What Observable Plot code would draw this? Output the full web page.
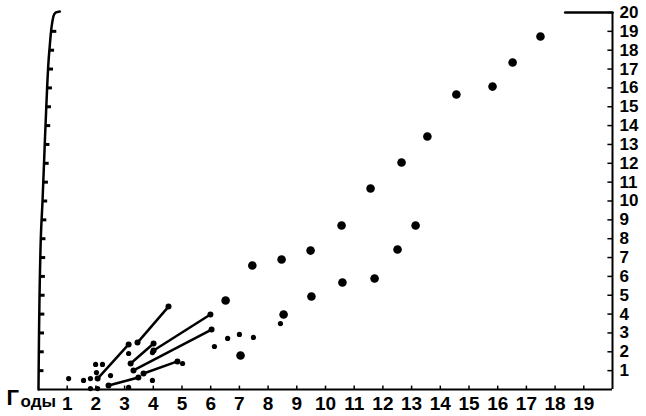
<!DOCTYPE html>
<html><head><meta charset="utf-8">
<script src="https://cdn.jsdelivr.net/npm/d3@7"></script>
<script src="https://cdn.jsdelivr.net/npm/@observablehq/plot@0.6"></script>
<style>body{margin:0;background:#fff}</style>
</head><body><div id="chart"></div>
<script>
// tick labels
const xTickLabels = [1,2,3,4,5,6,7,8,9,10,11,12,13,14,15,16,17,18,19];
const yTickLabels = [1,2,3,4,5,6,7,8,9,10,11,12,13,14,15,16,17,18,19,20];
const axisTitle = ["Г", "оды"];

// upper series of large dots
const upperX = [6.52, 7.45, 8.47, 9.48, 10.56, 11.57, 12.65, 13.55, 14.56, 15.82, 16.52, 17.49];
const upperY = [4.72, 6.58, 6.90, 7.37, 8.70, 10.66, 12.04, 13.42, 15.65, 16.07, 17.35, 18.73];

// lower series of large dots
const lowerX = [7.04, 8.54, 9.51, 10.59, 11.71, 12.51, 13.14];
const lowerY = [1.80, 3.98, 4.93, 5.68, 5.89, 7.43, 8.70];

// small scattered dots
const smallX = [1.05, 1.57, 1.81, 1.81, 2.06, 1.99, 2.23, 2.02, 2.51, 3.14, 3.97, 3.97, 3.14, 5.02, 6.13, 6.59, 7.00, 7.49, 8.43];
const smallY = [0.58, 0.48, 0.58, 0.05, 0.05, 1.33, 1.33, 0.90, 0.74, 1.91, 1.96, 0.48, 0.11, 1.38, 2.28, 2.71, 2.92, 2.76, 3.50];

// connected segments
const segX1 = [2.06, 3.45, 3.21, 4.01, 3.31, 3.66, 2.44];
const segY1 = [0.58, 2.49, 1.38, 2.07, 1.01, 0.85, 0.21];
const segX2 = [3.14, 4.53, 4.01, 5.99, 6.03, 4.84, 3.48];
const segY2 = [2.39, 4.40, 2.44, 3.98, 3.18, 1.49, 0.64];

// slanted left border as scanned
const leftEdgeX = [0.0, 0.08, 0.14, 0.21, 0.28, 0.38, 0.52, 0.6, 0.74];
const leftEdgeY = [0, 8.0, 10.0, 12.7, 15.3, 18.0, 19.8, 20.0, 20.05];

// short top border stub at right
const topStubX = [18.35, 20];
const topStubY = [20, 20];

const upper = upperX.map((x, i) => ({x, y: upperY[i]}));
const lower = lowerX.map((x, i) => ({x, y: lowerY[i]}));
const small = smallX.map((x, i) => ({x, y: smallY[i]}));
const segs = segX1.map((x1, i) => ({x1, y1: segY1[i], x2: segX2[i], y2: segY2[i]}));
const segEnds = segs.flatMap(s => [{x: s.x1, y: s.y1}, {x: s.x2, y: s.y2}]);
const leftEdge = leftEdgeX.map((x, i) => ({x, y: leftEdgeY[i]}));
const topStub = topStubX.map((x, i) => ({x, y: topStubY[i]}));
const edgeAt = y => {
  for (let i = 1; i < leftEdge.length; i++) {
    if (y <= leftEdge[i].y) {
      const a = leftEdge[i-1], b = leftEdge[i];
      return a.x + (b.x - a.x) * (y - a.y) / (b.y - a.y);
    }
  }
  return leftEdge[leftEdge.length-1].x;
};
const leftTicks = yTickLabels.filter(v => v < 20).map(v => ({y: v, x1: edgeAt(v), x2: edgeAt(v) + 0.18}));

const font = "Liberation Sans, Arial, sans-serif";

const chart = Plot.plot({
  width: 646,
  height: 416,
  marginLeft: 38,
  marginRight: 34,
  marginTop: 12,
  marginBottom: 27,
  x: {domain: [0, 20], axis: null},
  y: {domain: [0, 20], axis: null},
  style: {fontFamily: font, background: "#fff", color: "#000"},
  marks: [
    Plot.ruleY([0], {stroke: "#000", strokeWidth: 2}),
    Plot.ruleX([20], {stroke: "#000", strokeWidth: 2}),
    Plot.line(topStub, {x: "x", y: "y", stroke: "#000", strokeWidth: 2.5}),
    Plot.line(leftEdge, {x: "x", y: "y", curve: "monotone-y", stroke: "#000", strokeWidth: 2.5}),
    Plot.ruleX(xTickLabels, {x: d => d, y1: 0, y2: 0.18, stroke: "#000", strokeWidth: 1.5}),
    Plot.ruleY(yTickLabels, {y: d => d, x1: 19.84, x2: 20, stroke: "#000", strokeWidth: 1.5}),
    Plot.ruleY(leftTicks, {y: "y", x1: "x1", x2: "x2", stroke: "#000", strokeWidth: 3}),
    Plot.text(xTickLabels, {x: d => d, y: 0, text: d => String(d), lineAnchor: "top", dy: 7, fontSize: 19, fontWeight: "bold", fill: "#000"}),
    Plot.text(yTickLabels, {x: 20, y: d => d, text: d => String(d), textAnchor: "start", dx: 7, fontSize: 17, fontWeight: "bold", fill: "#000"}),
    Plot.text([axisTitle[0]], {frameAnchor: "bottom-left", text: d => d, textAnchor: "start", dx: -32, dy: 15, fontSize: 22, fontWeight: "bold", fill: "#000"}),
    Plot.text([axisTitle[1]], {frameAnchor: "bottom-left", text: d => d, textAnchor: "start", dx: -18, dy: 17, fontSize: 17, fontWeight: "bold", fill: "#000"}),
    Plot.link(segs, {x1: "x1", y1: "y1", x2: "x2", y2: "y2", stroke: "#000", strokeWidth: 2.5}),
    Plot.dot(segEnds, {x: "x", y: "y", r: 3, fill: "#000"}),
    Plot.dot(small, {x: "x", y: "y", r: 2.6, fill: "#000"}),
    Plot.dot(upper, {x: "x", y: "y", r: 4.3, fill: "#000"}),
    Plot.dot(lower, {x: "x", y: "y", r: 4.3, fill: "#000"})
  ]
});
document.getElementById("chart").appendChild(chart);
</script>
</body></html>
